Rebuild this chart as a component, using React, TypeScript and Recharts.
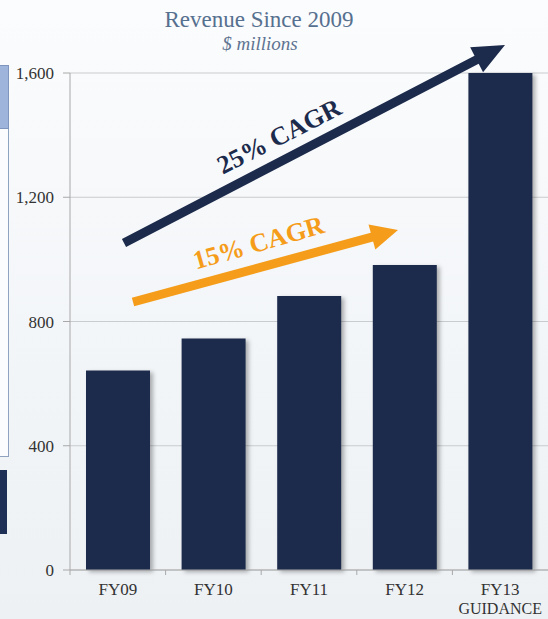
import React from 'react';
import { Bar, BarChart, CartesianGrid, XAxis, YAxis } from 'recharts';

const years = ['FY09', 'FY10', 'FY11', 'FY12', 'FY13'];
const subLabels = ['', '', '', '', 'GUIDANCE'];
const revenue = [642, 745, 882, 982, 1600];
const yTicks = [0, 400, 800, 1200, 1600];

const data = years.map((y, i) => ({ year: y, revenue: revenue[i] }));

const NAVY = '#1c2a4b';
const ORANGE = '#f59d1a';
const SERIF = '"Liberation Serif", "DejaVu Serif", serif';

const YearTick = (props: any) => {
  const { x, y, payload, index } = props;
  const half = payload?.offset ?? 47.8;
  return (
    <g>
      <line x1={x - half} x2={x - half} y1={y - 8} y2={y - 3} stroke='#a8a8a8' />
      <text x={x} y={y + 17} textAnchor='middle' fontFamily={SERIF} fontSize={17} fill='#333'>
        {payload.value}
      </text>
      {subLabels[index] ? (
        <text x={x} y={y + 36} textAnchor='middle' fontFamily={SERIF} fontSize={16} fill='#333'>
          {subLabels[index]}
        </text>
      ) : null}
    </g>
  );
};

const Arrow = ({ x1, y1, x2, y2, color, w, headL, headW }: any) => {
  const deg = (Math.atan2(y2 - y1, x2 - x1) * 180) / Math.PI;
  const len = Math.hypot(x2 - x1, y2 - y1);
  return (
    <g transform={`translate(${x1} ${y1}) rotate(${deg})`}>
      <polygon
        points={`0,${-w / 2} ${len - headL},${-w / 2} ${len - headL},${-headW / 2} ${len},0 ${len - headL},${headW / 2} ${len - headL},${w / 2} 0,${w / 2}`}
        fill={color}
      />
    </g>
  );
};

export default function App() {
  return (
    <div
      style={{
        position: 'fixed',
        left: 0,
        top: 0,
        width: 548,
        height: 619,
        overflow: 'hidden',
        background: 'linear-gradient(180deg, #fbfcfd 0%, #f2f5f8 60%, #edf1f4 100%)',
        fontFamily: SERIF,
      }}
    >
      {/* remnants of neighbouring slide panels */}
      <div style={{ position: 'absolute', left: -4, top: 65, width: 11, height: 390, border: '1px solid #8ea3bf', background: '#fbfcfe' }} />
      <div style={{ position: 'absolute', left: -4, top: 65, width: 11, height: 62, background: '#9fb4db', border: '1px solid #7f95bd' }} />
      <div style={{ position: 'absolute', left: -4, top: 470, width: 11, height: 64, background: '#1f3057' }} />

      <div style={{ position: 'absolute', left: 0, top: 0 }}>
        <BarChart width={548} height={619} data={data} margin={{ top: 73, right: 0, bottom: 0, left: 0 }}>
          <CartesianGrid vertical={false} stroke='#c9cccf' />
          <XAxis
            dataKey='year'
            height={49}
            axisLine={{ stroke: '#a8a8a8' }}
            tickLine={false}
            tick={<YearTick />}
            interval={0}
          />
          <YAxis
            width={70}
            domain={[0, 1600]}
            ticks={yTicks}
            axisLine={{ stroke: '#a8a8a8' }}
            tickLine={{ stroke: '#a8a8a8' }}
            tickSize={7}
            tickMargin={9}
            tickFormatter={(v: number) => v.toLocaleString('en-US')}
            tick={{ fontFamily: SERIF, fontSize: 17, fill: '#333' }}
          />
          <Bar
            dataKey='revenue'
            fill={NAVY}
            barSize={64}
            isAnimationActive={false}
            style={{ filter: 'drop-shadow(3px 2px 2px rgba(0,0,0,0.3))' }}
          />
        </BarChart>
      </div>

      <svg width={548} height={619} style={{ position: 'absolute', left: 0, top: 0, pointerEvents: 'none' }}>
        <text x={259} y={27} textAnchor='middle' fontFamily={SERIF} fontSize={23} fill='#56708f'>
          Revenue Since 2009
        </text>
        <text x={260} y={50} textAnchor='middle' fontFamily={SERIF} fontSize={19} fontStyle='italic' fill='#5f7492'>
          $ millions
        </text>
        <Arrow x1={124} y1={243} x2={505} y2={45} color={NAVY} w={9} headL={32} headW={28} />
        <Arrow x1={133} y1={302} x2={398} y2={230} color={ORANGE} w={9} headL={27} headW={26} />
        <text
          x={283}
          y={144}
          textAnchor='middle'
          fontFamily={SERIF}
          fontWeight='bold'
          fontSize={26}
          fill={NAVY}
          transform='rotate(-27 283 144)'
        >
          25% CAGR
        </text>
        <text
          x={261}
          y={251}
          textAnchor='middle'
          fontFamily={SERIF}
          fontWeight='bold'
          fontSize={26}
          fill={ORANGE}
          transform='rotate(-16 261 251)'
        >
          15% CAGR
        </text>
      </svg>
    </div>
  );
}
